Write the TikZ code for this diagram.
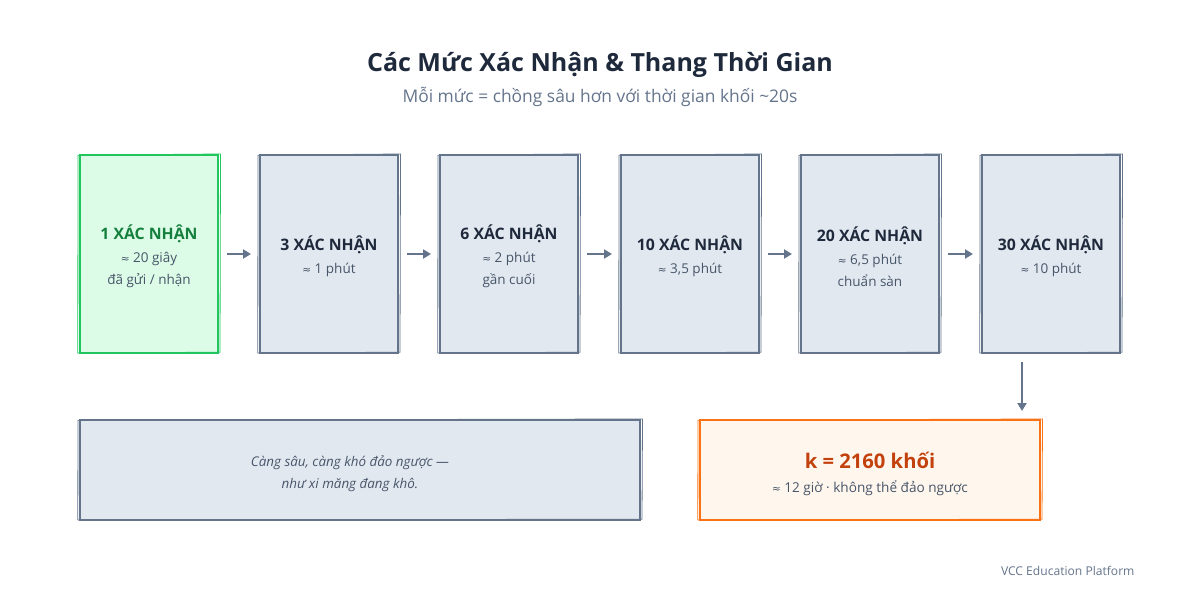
\documentclass[tikz,border=0pt]{standalone}
\usepackage{fontspec}
\setmainfont{Open Sans}
\newfontfamily\symfont{DejaVu Sans}
\usetikzlibrary{arrows.meta}

\definecolor{slateline}{HTML}{64748B}
\definecolor{slatefill}{HTML}{E2E8F0}
\definecolor{inkdark}{HTML}{1E293B}
\definecolor{inksoft}{HTML}{475569}
\definecolor{greenline}{HTML}{22C55E}
\definecolor{greenfill}{HTML}{DCFCE7}
\definecolor{greenink}{HTML}{15803D}
\definecolor{orangeline}{HTML}{F97316}
\definecolor{orangefill}{HTML}{FFF7ED}
\definecolor{orangeink}{HTML}{C2410C}

\newcommand{\approxsym}{{\symfont\fontsize{10.5}{12}\selectfont ≈}}
\newcommand{\headtxt}[2]{\textcolor{#1}{\bfseries\fontsize{15.8}{18}\selectfont #2}}
\newcommand{\subtxt}[1]{\textcolor{inksoft}{#1}}

\begin{document}
\begin{tikzpicture}[x=1pt,y=-1pt,
	level/.style={draw=slateline, fill=slatefill, line width=2pt, minimum width=138pt, minimum height=198pt},
	firstlevel/.style={level, draw=greenline, fill=greenfill},
	widebox/.style={draw=slateline, fill=slatefill, line width=2pt, minimum width=560pt, minimum height=100pt},
	finalbox/.style={draw=orangeline, fill=orangefill, line width=2pt, minimum width=340pt, minimum height=100pt},
	boxtext/.style={align=center, inner sep=0pt, font=\fontsize{13.5}{22}\selectfont},
	flow/.style={draw=slateline, line width=2pt, -{Triangle[length=8pt,width=9pt]}, shorten <=8pt, shorten >=8pt}]
	\useasboundingbox (0,0) rectangle (1200,600);

	% title
	\node[text=inkdark, font=\bfseries\fontsize{25}{30}\selectfont] (title) at (600,65) {Các Mức Xác Nhận \& Thang Thời Gian};
	\node[text=slateline, font=\fontsize{17.4}{20}\selectfont] (subtitle) at (600,97) {Mỗi mức = chồng sâu hơn với thời gian khối \textasciitilde20s};

	% confirmation levels
	\node[firstlevel] (b1) at (149,254) {};
	\node[level] (b2) at (329,254) {};
	\node[level] (b3) at (509,254) {};
	\node[level] (b4) at (690,254) {};
	\node[level] (b5) at (870,254) {};
	\node[level] (b6) at (1051,254) {};

	\node[boxtext] (t1) at ([yshift=-2.5pt]b1.center) {\headtxt{greenink}{1 XÁC NHẬN}\\[1pt]\subtxt{\approxsym\ 20 giây}\\\subtxt{đã gửi / nhận}};
	\node[boxtext] (t2) at ([yshift=-2.5pt]b2.center) {\headtxt{inkdark}{3 XÁC NHẬN}\\[1pt]\subtxt{\approxsym\ 1 phút}};
	\node[boxtext] (t3) at ([yshift=-2.5pt]b3.center) {\headtxt{inkdark}{6 XÁC NHẬN}\\[1pt]\subtxt{\approxsym\ 2 phút}\\\subtxt{gần cuối}};
	\node[boxtext] (t4) at ([yshift=-2.5pt]b4.center) {\headtxt{inkdark}{10 XÁC NHẬN}\\[1pt]\subtxt{\approxsym\ 3,5 phút}};
	\node[boxtext] (t5) at ([yshift=-2.5pt]b5.center) {\headtxt{inkdark}{20 XÁC NHẬN}\\[1pt]\subtxt{\approxsym\ 6,5 phút}\\\subtxt{chuẩn sàn}};
	\node[boxtext] (t6) at ([yshift=-2.5pt]b6.center) {\headtxt{inkdark}{30 XÁC NHẬN}\\[1pt]\subtxt{\approxsym\ 10 phút}};

	\draw[flow] (b1) -- (b2);
	\draw[flow] (b2) -- (b3);
	\draw[flow] (b3) -- (b4);
	\draw[flow] (b4) -- (b5);
	\draw[flow] (b5) -- (b6);

	% lower row
	\node[widebox] (note) at (360,470) {};
	\node[finalbox] (final) at (870,470) {};
	\node[boxtext, text=inksoft, font=\itshape\fontsize{13.4}{22}\selectfont] (notetext) at ([xshift=-10pt,yshift=-4pt]note.center) {Càng sâu, càng khó đảo ngược —\\như xi măng đang khô.};
	\node[boxtext, font=\fontsize{13.6}{22}\selectfont] (finaltext) at ([yshift=-3.5pt]final.center) {\textcolor{orangeink}{\bfseries\fontsize{20.2}{24}\selectfont k = 2160 khối}\\[2pt]\subtxt{\approxsym\ 12 giờ · không thể đảo ngược}};

	\coordinate (drop) at (1022,354);
	\draw[flow] (drop) -- (drop |- final.north);

	% sketchy second strokes
	\foreach \b/\c in {b1/greenline,b2/slateline,b3/slateline,b4/slateline,b5/slateline,b6/slateline,note/slateline,final/orangeline}
		\draw[\c, line width=0.8pt] ([shift={(-1pt,-1.2pt)}]\b.north west) -- ([shift={(1.5pt,0pt)}]\b.north east) -- ([shift={(1pt,1.8pt)}]\b.south east) -- ([shift={(-1.2pt,1pt)}]\b.south west) -- cycle;

	\node[anchor=east, text=slateline, font=\fontsize{12.1}{14}\selectfont] (footer) at (1138,571) {VCC Education Platform};
\end{tikzpicture}
\end{document}
